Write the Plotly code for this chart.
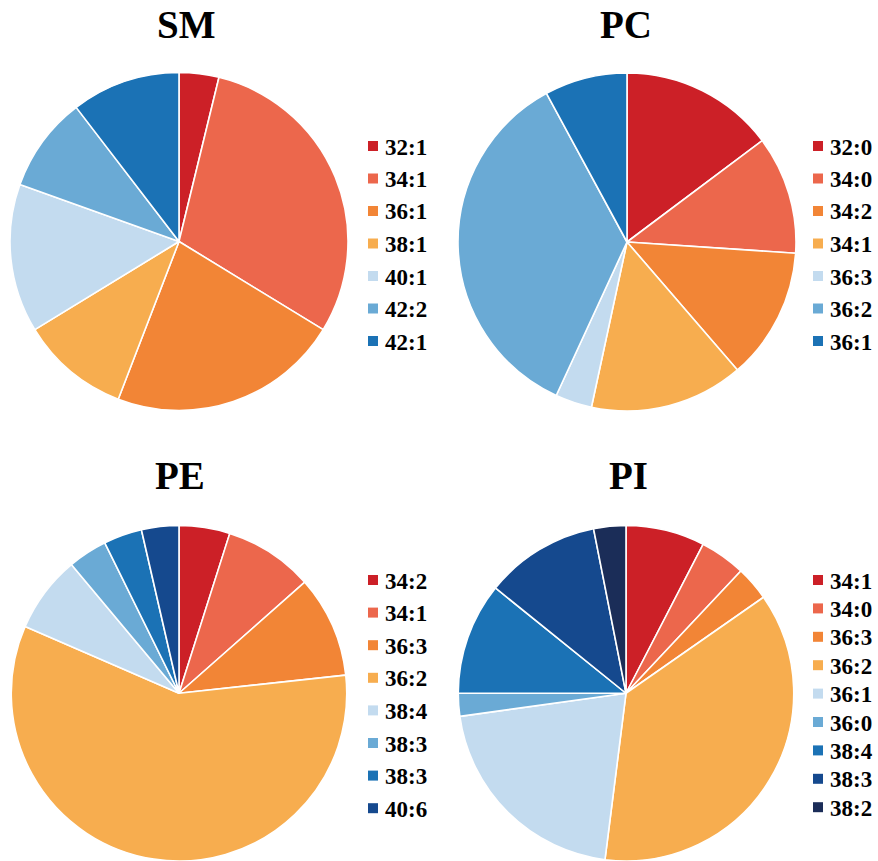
import plotly.graph_objects as go

# Share of each molecular species (%), per lipid class
sm_labels = ["32:1", "34:1", "36:1", "38:1", "40:1", "42:2", "42:1"]
sm_values = [3.8, 29.9, 22.1, 10.4, 14.2, 9.1, 10.4]

pc_labels = ["32:0", "34:0", "34:2", "34:1", "36:3", "36:2", "36:1"]
pc_values = [14.75, 11.3, 12.6, 14.7, 3.5, 35.2, 7.9]

pe_labels = ["34:2", "34:1", "36:3", "36:2", "38:4", "38:3", "38:3", "40:6"]
pe_values = [4.9, 8.6, 9.8, 58.3, 7.4, 3.8, 3.7, 3.6]

pi_labels = ["34:1", "34:0", "36:3", "36:2", "36:1", "36:0", "38:4", "38:3", "38:2"]
pi_values = [7.6, 4.4, 3.3, 36.7, 20.8, 2.2, 10.8, 11.1, 3.1]

titles = ["SM", "PC", "PE", "PI"]

RED, SALMON, ORANGE, LORANGE = "#CC2027", "#EC674C", "#F28536", "#F7AD4F"
LBLUE, MBLUE, BLUE, DBLUE, NAVY = "#C3DBEF", "#6AAAD5", "#1B72B5", "#15498E", "#1B2D58"

sm_colors = [RED, SALMON, ORANGE, LORANGE, LBLUE, MBLUE, BLUE]
pc_colors = [RED, SALMON, ORANGE, LORANGE, LBLUE, MBLUE, BLUE]
pe_colors = [RED, SALMON, ORANGE, LORANGE, LBLUE, MBLUE, BLUE, DBLUE]
pi_colors = [RED, SALMON, ORANGE, LORANGE, LBLUE, MBLUE, BLUE, DBLUE, NAVY]

W, H = 878, 861
SERIF = "Liberation Serif, Times New Roman, serif"

# panel geometry in pixels: pie centre, radius, title centre, legend origin and row step
panels = [
    dict(cx=179, cy=241.5, r=169, tx=186, ty=25, lx=368, ly=146, step=32.5),
    dict(cx=627, cy=242, r=169, tx=626, ty=25, lx=813, ly=146, step=32.5),
    dict(cx=179, cy=693.5, r=168, tx=180, ty=475, lx=368, ly=580, step=32.6),
    dict(cx=626, cy=693.5, r=168, tx=628, ty=475, lx=813, ly=580, step=28.4),
]
series = [
    (sm_labels, sm_values, sm_colors),
    (pc_labels, pc_values, pc_colors),
    (pe_labels, pe_values, pe_colors),
    (pi_labels, pi_values, pi_colors),
]


def px_x(x):
    return x / W


def px_y(y):
    return 1 - y / H


fig = go.Figure()
annotations = []
shapes = []

for title, p, (labels, values, colors) in zip(titles, panels, series):
    y0 = max(0.0, px_y(p["cy"] + p["r"]))
    y1 = min(1.0, px_y(p["cy"] - p["r"]))
    fig.add_trace(go.Pie(
        values=values,
        text=labels,
        sort=False,
        direction="clockwise",
        rotation=0,
        textinfo="none",
        hovertemplate="%{text}: %{value}%<extra>" + title + "</extra>",
        marker=dict(colors=colors, line=dict(color="white", width=1.6)),
        domain=dict(x=[px_x(p["cx"] - p["r"]), px_x(p["cx"] + p["r"])], y=[y0, y1]),
        showlegend=False,
    ))
    annotations.append(dict(
        text="<b>" + title + "</b>", x=px_x(p["tx"]), y=px_y(p["ty"]),
        xref="paper", yref="paper", xanchor="center", yanchor="middle",
        showarrow=False, font=dict(family=SERIF, size=39, color="black"),
    ))
    for i, (lab, col) in enumerate(zip(labels, colors)):
        yc = p["ly"] + i * p["step"]
        shapes.append(dict(
            type="rect", xref="paper", yref="paper",
            x0=px_x(p["lx"]), x1=px_x(p["lx"] + 10),
            y0=px_y(yc + 5), y1=px_y(yc - 5),
            fillcolor=col, line=dict(width=0),
        ))
        annotations.append(dict(
            text="<b>" + lab + "</b>", x=px_x(p["lx"] + 15), y=px_y(yc + 1),
            xref="paper", yref="paper", xanchor="left", yanchor="middle",
            showarrow=False, font=dict(family=SERIF, size=23, color="black"),
        ))

fig.update_layout(
    width=W, height=H,
    margin=dict(l=0, r=0, t=0, b=0),
    paper_bgcolor="white", plot_bgcolor="white",
    annotations=annotations, shapes=shapes,
    showlegend=False,
)

fig.write_html("out.html")
